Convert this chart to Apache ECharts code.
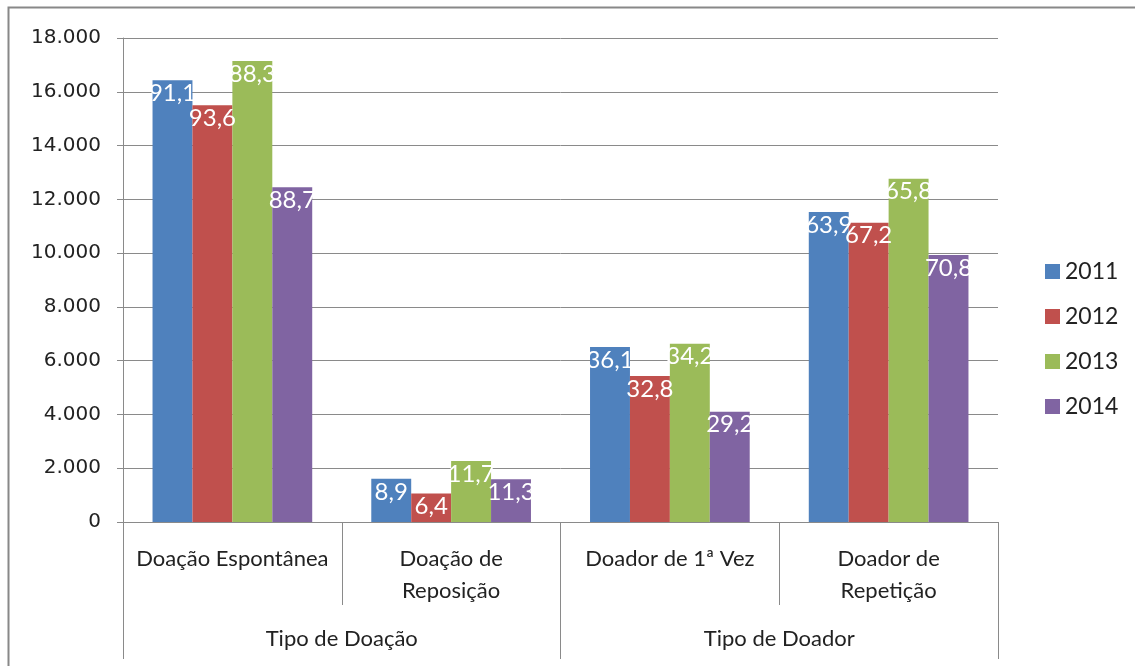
<!DOCTYPE html>
<html>
<head>
<meta charset="utf-8">
<script src="https://cdn.jsdelivr.net/npm/echarts@6/dist/echarts.min.js"></script>
<style>
  html, body { margin: 0; padding: 0; background: #fff; }
  #chart-container { width: 1135px; height: 666px; }
</style>
</head>
<body>
<div id="chart-container"></div>
<script>
var categories = ['Doação Espontânea', 'Doação de\nReposição', 'Doador de 1ª Vez', 'Doador de\nRepetição'];
var groups = ['Tipo de Doação', 'Tipo de Doador'];
var years = ['2011', '2012', '2013', '2014'];

// bar heights (number of donations)
var v2011 = [16430, 1605, 6510, 11525];
var v2012 = [15500, 1060, 5430, 11130];
var v2013 = [17140, 2270, 6630, 12770];
var v2014 = [12450, 1590, 4100, 9930];

// percentages printed on the bars
var p2011 = [91.1, 8.9, 36.1, 63.9];
var p2012 = [93.6, 6.4, 32.8, 67.2];
var p2013 = [88.3, 11.7, 34.2, 65.8];
var p2014 = [88.7, 11.3, 29.2, 70.8];

var colors = ['#4F81BD', '#C0504D', '#9BBB59', '#8064A2'];
var values = [v2011, v2012, v2013, v2014];
var pcts = [p2011, p2012, p2013, p2014];

var dom = document.getElementById('chart-container');
var myChart = echarts.init(dom, null, { renderer: 'canvas' });

var axisGray = '#8a8a8a';

var series = years.map(function (y, i) {
  return {
    name: y,
    type: 'bar',
    xAxisIndex: 0,
    barGap: '0%',
    barCategoryGap: '27%',
    itemStyle: { color: colors[i] },
    label: {
      show: true,
      position: 'insideTop',
      distance: 1,
      color: '#fff',
      fontFamily: 'Lato',
      fontSize: 24,
      formatter: function (p) {
        return pcts[i][p.dataIndex].toFixed(1).replace('.', ',');
      }
    },
    data: values[i]
  };
});

var option = {
  animation: false,
  color: colors,
  grid: { left: 123, right: 137, top: 38, bottom: 144 },
  legend: {
    orient: 'vertical',
    left: 1040,
    top: 255,
    itemWidth: 15,
    itemHeight: 15,
    itemGap: 22,
    icon: 'rect',
    textStyle: { fontFamily: 'Lato', fontSize: 23, color: '#222' },
    data: years
  },
  xAxis: [
    {
      type: 'category',
      data: categories,
      position: 'bottom',
      axisLine: { show: true, lineStyle: { color: axisGray, width: 1 } },
      axisTick: { show: true, length: 83, lineStyle: { color: axisGray } },
      axisLabel: {
        margin: 21,
        fontFamily: 'Lato',
        fontSize: 22,
        lineHeight: 32,
        color: '#222',
        interval: 0
      }
    },
    {
      type: 'category',
      data: groups,
      position: 'bottom',
      axisLine: { show: false },
      axisTick: { show: true, length: 137, lineStyle: { color: axisGray } },
      axisLabel: {
        margin: 106,
        fontFamily: 'Lato',
        fontSize: 22,
        color: '#222'
      }
    }
  ],
  yAxis: {
    type: 'value',
    min: 0,
    max: 18000,
    interval: 2000,
    axisLine: { show: true, lineStyle: { color: axisGray } },
    axisTick: { show: true, length: 6, lineStyle: { color: axisGray } },
    splitLine: { lineStyle: { color: axisGray, width: 1 } },
    axisLabel: {
      margin: 22,
      fontFamily: 'DejaVu Sans',
      fontSize: 20,
      color: '#222',
      formatter: function (v) {
        return String(v).replace(/\B(?=(\d{3})+(?!\d))/g, '.');
      }
    }
  },
  graphic: [
    {
      type: 'polyline',
      shape: { points: [[8.5, 670], [8.5, 7.5], [1140, 7.5]] },
      style: { stroke: '#888', lineWidth: 2, fill: null }
    }
  ],
  series: series
};

myChart.setOption(option);
</script>
</body>
</html>
